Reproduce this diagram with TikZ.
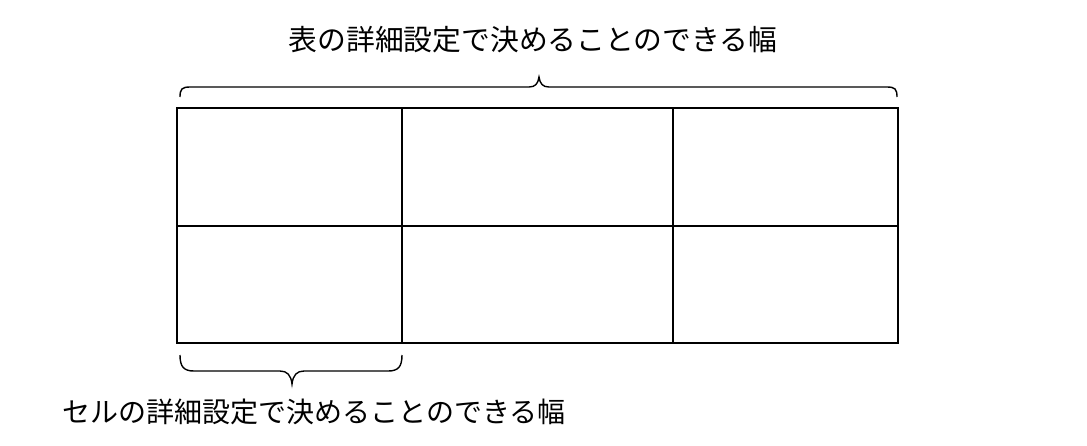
\documentclass[tikz,border=0pt]{standalone}
\usepackage{fontspec}
\newfontfamily\jp{Noto Sans CJK JP}
\begin{document}
\begin{tikzpicture}[x=1pt,y=-1pt,
  grid/.style={line width=1.6pt,line cap=rect},
  bracepath/.style={line width=1.4pt},
  label/.style={font=\jp\fontsize{28pt}{32pt}\selectfont,inner sep=0pt,anchor=center}]
\useasboundingbox (0,0) rectangle (1087,445);
\fill[white] (0,0) rectangle (1087,445);
% table
\coordinate (tl) at (177,108);
\coordinate (br) at (898,343);
\draw[grid] (tl) rectangle (br);
\draw[grid] (177,226) -- (898,226);
\draw[grid] (402,108) -- (402,343);
\draw[grid] (673,108) -- (673,343);
% top brace
\draw[bracepath] (180,97) .. controls (180,89) and (182,87) .. (190,87) -- (529,87)
  .. controls (535,87) and (538,84) .. (539,77)
  .. controls (540,84) and (543,87) .. (549,87) -- (887,87)
  .. controls (895,87) and (897,89) .. (897,97);
% bottom brace
\draw[bracepath] (180,355) .. controls (180,367) and (184,371) .. (194,371) -- (280,371)
  .. controls (287,371) and (291,375) .. (292,384)
  .. controls (293,375) and (297,371) .. (304,371) -- (388,371)
  .. controls (398,371) and (402,367) .. (402,355);
\node[label,font=\jp\fontsize{28.8pt}{32pt}\selectfont] (toplabel) at (533,40) {表の詳細設定で決めることのできる幅};
\node[label] (botlabel) at (314,412) {セルの詳細設定で決めることのできる幅};
\end{tikzpicture}
\end{document}
